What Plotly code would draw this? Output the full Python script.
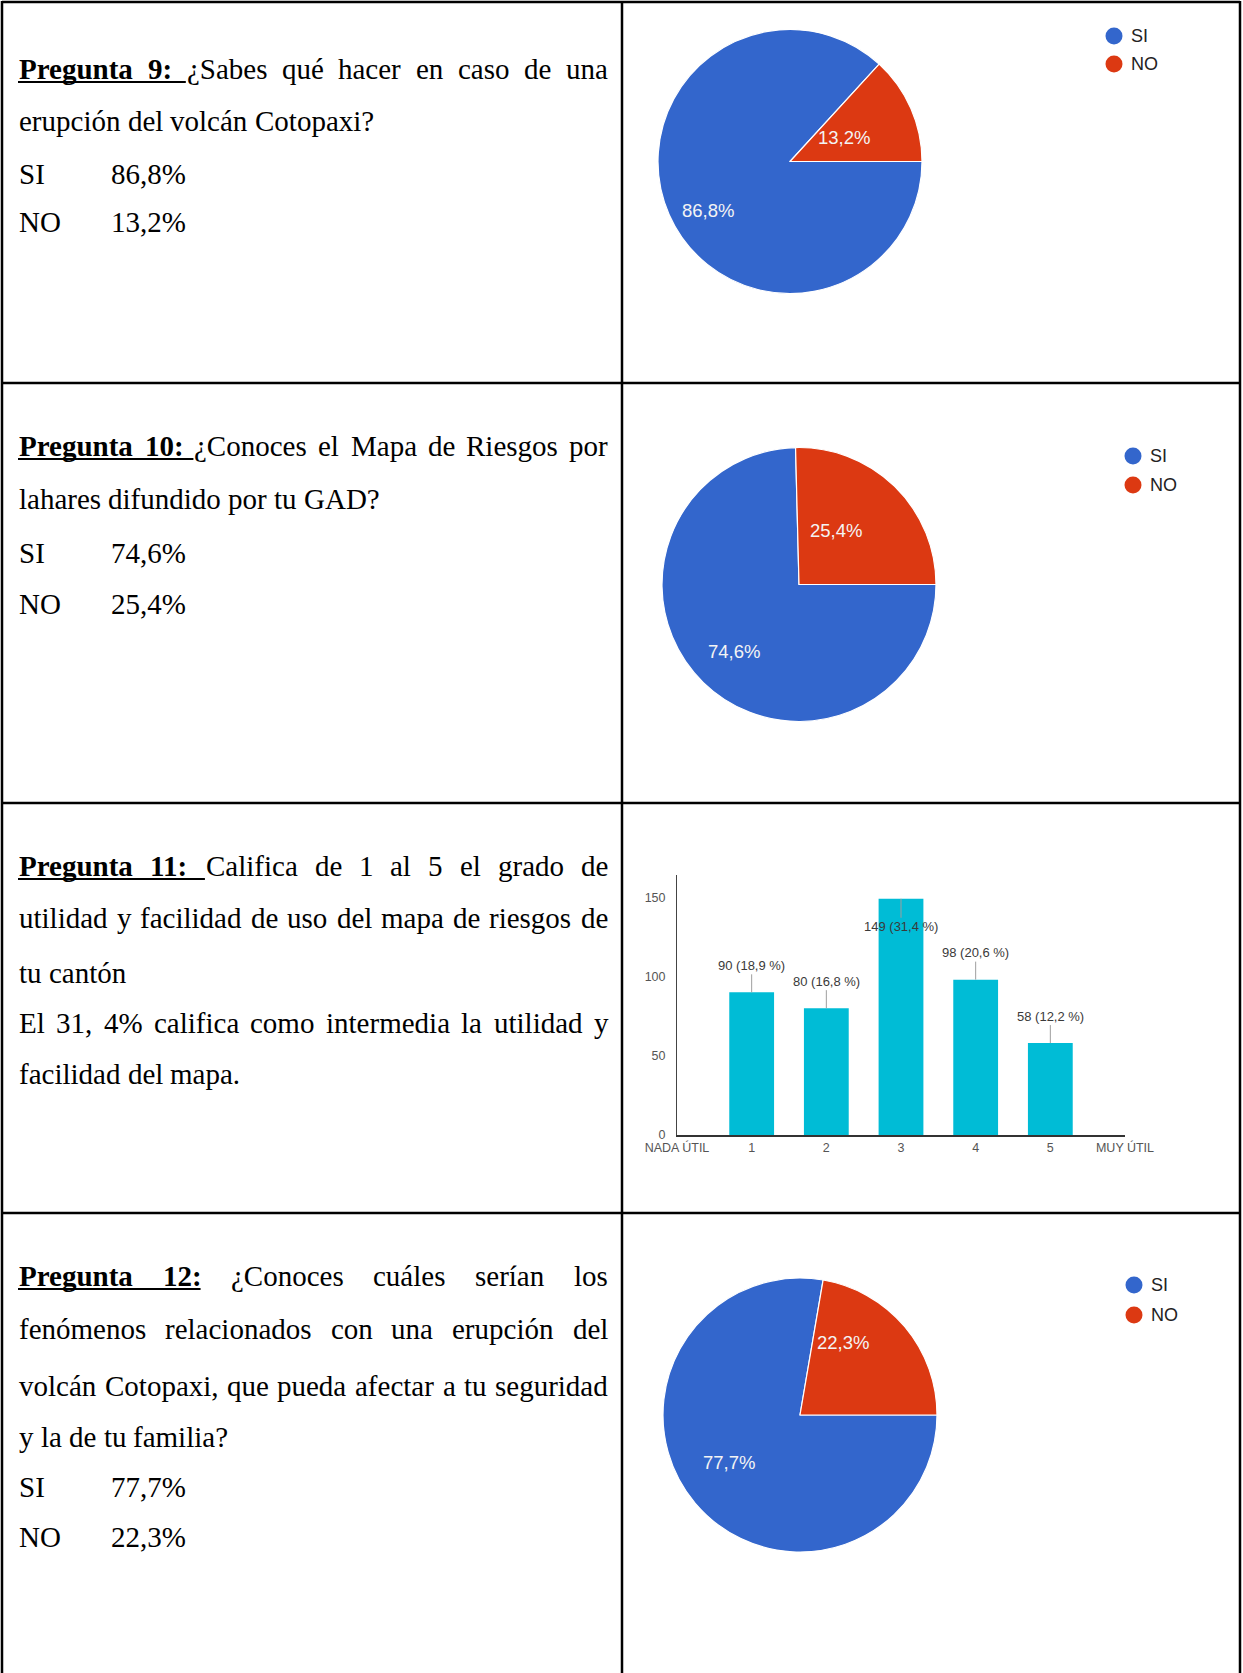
import math
import plotly.graph_objects as go

W, H = 1243, 1673

# ---- data ----
headings = ["Pregunta 9:", "Pregunta 10:", "Pregunta 11:", "Pregunta 12:"]
question_lines = [
    ["¿Sabes qué hacer en caso de una", "erupción del volcán Cotopaxi?"],
    ["¿Conoces el Mapa de Riesgos por", "lahares difundido por tu GAD?"],
    ["Califica de 1 al 5 el grado de",
     "utilidad y facilidad de uso del mapa de riesgos de",
     "tu cantón",
     "El 31, 4% califica como intermedia la utilidad y",
     "facilidad del mapa."],
    ["¿Conoces cuáles serían los",
     "fenómenos relacionados con una erupción del",
     "volcán Cotopaxi, que pueda afectar a tu seguridad",
     "y la de tu familia?"],
]
justified = [[True, False], [True, False],
             [True, True, False, True, False],
             [True, True, True, False]]

pie_labels = ["SI", "NO"]
pie_values = [[86.8, 13.2], [74.6, 25.4], [77.7, 22.3]]
pie_rows = [0, 1, 3]
pie_colors = ["#3366cc", "#dc3912"]

bar_ticks = ["NADA ÚTIL", "1", "2", "3", "4", "5", "MUY ÚTIL"]
bar_x = [1, 2, 3, 4, 5]
bar_counts = [90, 80, 149, 98, 58]
bar_pcts = [18.9, 16.8, 31.4, 20.6, 12.2]

# ---- layout constants (pixels) ----
ROW_LINES = [383, 803, 1213]
MID_X = 622
LEFT_X, RIGHT_X, TOP_Y = 2, 1240, 2
TX0, TX1 = 18, 607
VAL_X = 110
FS = 29
LINE_Y = [[69, 121, 174, 222], [446, 499, 553, 604],
          [866, 918, 973, 1023, 1074], [1276, 1329, 1386, 1437, 1487, 1537]]
UL_TO_NEXT = [True, True, True, False]
PIE_GEOM = [(790, 161.5, 132), (799, 584.5, 137), (800, 1415, 137)]
LEG_POS = [(1114, 36, 28), (1133, 456, 29), (1134, 1285, 30)]
SERIF = "Liberation Serif, Times New Roman, serif"
SANS = "Liberation Sans, Arial, sans-serif"


def px(x):
    return x / W


def py(y):
    return 1 - y / H


# Times metrics, to justify lines like the document does
R = dict(zip("abcdefghijklmnopqrstuvwxyz",
             [444, 500, 444, 500, 444, 333, 500, 500, 278, 278, 500, 278, 778,
              500, 500, 500, 500, 333, 389, 278, 500, 500, 722, 500, 500, 444]))
R.update(zip("ABCDEFGHIJKLMNOPQRSTUVWXYZ",
             [722, 667, 667, 722, 611, 556, 722, 722, 333, 389, 722, 611, 889,
              722, 722, 556, 722, 667, 556, 611, 722, 722, 944, 722, 722, 611]))
R.update({c: 500 for c in "0123456789"})
R.update({" ": 250, ",": 250, ".": 250, ":": 278, "?": 444, "¿": 444, "%": 833,
          "(": 333, ")": 333, "á": 444, "é": 444, "í": 278, "ó": 500, "ú": 500, "ñ": 500})
B = dict(R)
B.update(zip("abcdefghijklmnopqrstuvwxyz",
             [500, 556, 444, 556, 444, 333, 500, 556, 278, 333, 556, 278, 833,
              556, 500, 556, 556, 444, 389, 333, 556, 500, 722, 500, 500, 444]))
B.update({"P": 611, ":": 333})


def tw(s, bold=False):
    t = B if bold else R
    return sum(t.get(c, 500) for c in s) * FS / 1000.0


fig = go.Figure()
annotations = []
shapes = []

# ---- left column text ----
for r in range(4):
    for i, line in enumerate(question_lines[r]):
        y = LINE_Y[r][i]
        tokens = [(w, False) for w in line.split(" ")]
        if i == 0:
            tokens = [(w, True) for w in headings[r].split(" ")] + tokens
        widths = [tw(t, b) for t, b in tokens]
        if justified[r][i]:
            gap = (TX1 - TX0 - sum(widths)) / (len(tokens) - 1)
        else:
            gap = tw(" ")
        x = TX0
        for (t, b), w in zip(tokens, widths):
            annotations.append(dict(x=px(x), y=py(y), xref="paper", yref="paper",
                                    text=f"<b>{t}</b>" if b else t, showarrow=False,
                                    xanchor="left", yanchor="middle", borderpad=0,
                                    font=dict(family=SERIF, size=FS, color="black")))
            x += w + gap
        if i == 0:
            nb = len(headings[r].split(" "))
            end = TX0 + sum(widths[:nb]) + (nb - 1) * gap
            if UL_TO_NEXT[r]:
                end += gap
            shapes.append(dict(type="line", xref="paper", yref="paper",
                               x0=px(TX0), x1=px(end), y0=py(y + 13), y1=py(y + 13),
                               line=dict(color="black", width=2)))

# answer lines under the pie questions
for k, r in enumerate(pie_rows):
    n = len(question_lines[r])
    for j, lab in enumerate(pie_labels):
        y = LINE_Y[r][n + j]
        val = f"{pie_values[k][j]:.1f}%".replace(".", ",")
        for x, t in ((TX0, lab), (VAL_X, val)):
            annotations.append(dict(x=px(x), y=py(y), xref="paper", yref="paper", text=t,
                                    showarrow=False, xanchor="left", yanchor="middle",
                                    borderpad=0, font=dict(family=SERIF, size=FS, color="black")))

# ---- pies ----
for k, vals in enumerate(pie_values):
    cx, cy, rad = PIE_GEOM[k]
    fig.add_trace(go.Pie(values=vals, labels=pie_labels, sort=False, direction="clockwise",
                         rotation=90, textinfo="none", hoverinfo="skip", showlegend=False,
                         marker=dict(colors=pie_colors, line=dict(color="white", width=1.2)),
                         domain=dict(x=[px(cx - rad), px(cx + rad)],
                                     y=[py(cy + rad), py(cy - rad)])))
    total = sum(vals)
    acc = 0
    for v in vals:
        mid = 90 + (acc + v / 2) / total * 360
        acc += v
        lx = cx + 0.68 * rad * math.sin(math.radians(mid))
        ly = cy - 0.68 * rad * math.cos(math.radians(mid))
        annotations.append(dict(x=px(lx), y=py(ly), xref="paper", yref="paper",
                                text=f"{v:.1f}%".replace(".", ","), showarrow=False,
                                font=dict(family=SANS, size=18.5, color="#f4f4f4")))
    lx, ly, dy = LEG_POS[k]
    for j, lab in enumerate(pie_labels):
        yy = ly + j * dy
        shapes.append(dict(type="circle", xref="paper", yref="paper",
                           x0=px(lx - 8.5), x1=px(lx + 8.5), y0=py(yy + 8.5), y1=py(yy - 8.5),
                           fillcolor=pie_colors[j], line=dict(width=0)))
        annotations.append(dict(x=px(lx + 15), y=py(yy), xref="paper", yref="paper", text=lab,
                                showarrow=False, xanchor="left", yanchor="middle",
                                font=dict(family=SANS, size=18, color="#222222")))

# ---- bar chart ----
YMAX = 164
fig.add_trace(go.Bar(x=bar_x, y=bar_counts, width=0.6, marker=dict(color="#00bcd6", line=dict(width=0)),
                     hoverinfo="skip", showlegend=False))
for x, c, p in zip(bar_x, bar_counts, bar_pcts):
    lab = f"{c} ({p:.1f} %)".replace(".", ",")
    up = c + 17 < YMAX
    annotations.append(dict(x=x, y=c, xref="x", yref="y", text=lab, showarrow=True,
                            arrowhead=0, arrowwidth=1, arrowcolor="#9e9e9e",
                            ax=0, ay=-27 if up else 28, standoff=0,
                            font=dict(family=SANS, size=13, color="#3a3a3a")))

# ---- table rules ----
for x in (LEFT_X, MID_X, RIGHT_X):
    shapes.append(dict(type="line", xref="paper", yref="paper", x0=px(x), x1=px(x),
                       y0=0, y1=py(TOP_Y - 1), line=dict(color="black", width=2.5)))
for y in [TOP_Y] + ROW_LINES:
    shapes.append(dict(type="line", xref="paper", yref="paper", x0=px(LEFT_X), x1=px(RIGHT_X),
                       y0=py(y), y1=py(y), line=dict(color="black", width=2.5)))

fig.update_layout(
    width=W, height=H, margin=dict(l=0, r=0, t=0, b=0, autoexpand=False),
    paper_bgcolor="white", plot_bgcolor="white",
    xaxis=dict(domain=[px(677), px(1125)], range=[0, 6], tickvals=list(range(7)),
               ticktext=bar_ticks, showgrid=False, zeroline=False, showline=True,
               linecolor="#333333", linewidth=2, ticks="", automargin=False,
               tickfont=dict(family=SANS, size=12.5, color="#555555")),
    yaxis=dict(domain=[py(1135), py(875)], range=[0, YMAX], tickvals=[0, 50, 100, 150],
               showgrid=False, zeroline=False, showline=True, linecolor="#444444", linewidth=1,
               ticks="", ticklabelstandoff=8, automargin=False,
               tickfont=dict(family=SANS, size=12.5, color="#555555")),
    annotations=annotations, shapes=shapes,
)

# the page's default body margin would shift the whole table by 8px
fig.write_html("out.html", config={"displayModeBar": False},
               post_script="document.body.style.margin = '0';")
